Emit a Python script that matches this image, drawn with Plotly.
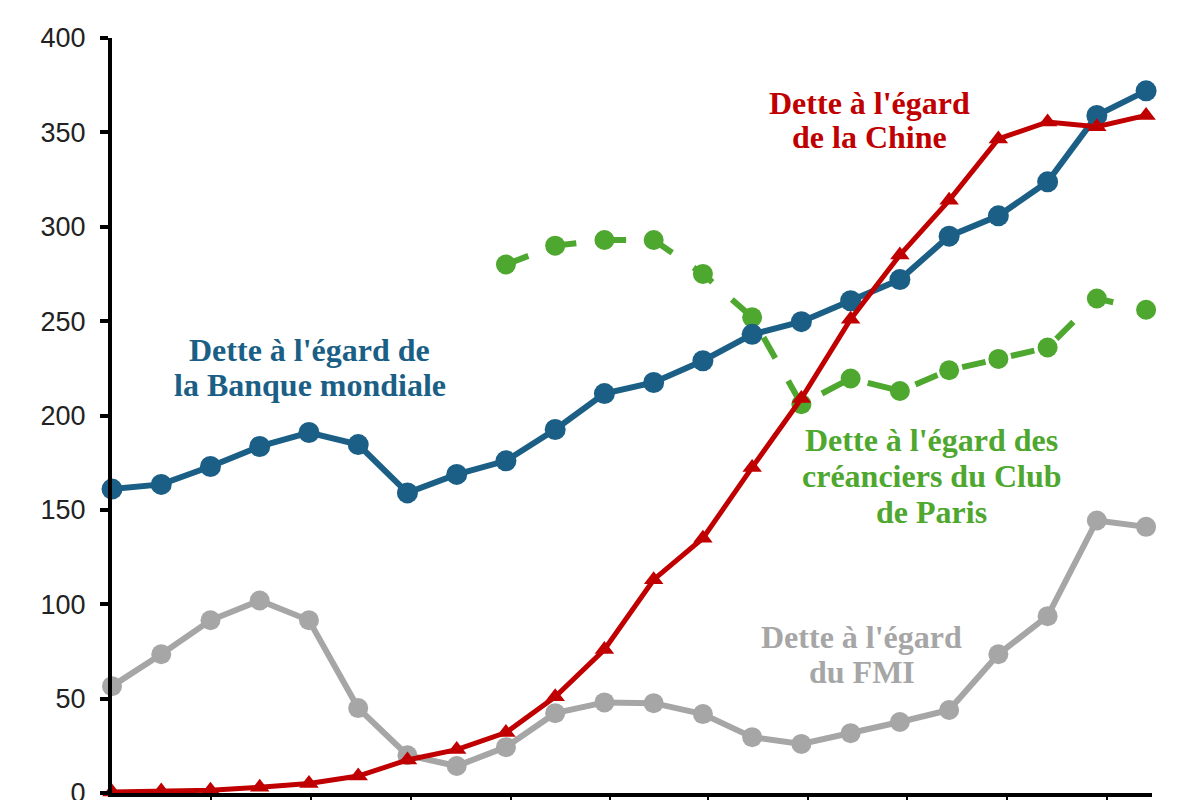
import plotly.graph_objects as go

idx = list(range(22))

banque_mondiale = [161, 163.5, 173, 183.6, 191, 184.6, 159, 168.8, 176, 192.6, 211.6, 217.5,
                   229, 243, 249.7, 260.8, 272, 295, 305.8, 323.8, 359, 372]
chine = [0.5, 1, 1.5, 3, 5, 9, 17.5, 23, 32, 51, 76, 113,
         135, 172.5, 209, 251, 285, 314, 346.5, 355.5, 353, 359]
fmi = [56.6, 73.5, 91.5, 102, 91.5, 45, 20, 14.3, 24.3, 42.3, 48, 47.6,
       41.8, 29.6, 26, 31.7, 37.6, 44, 73.5, 93.7, 144.4, 141]
club_paris = [None] * 8 + [280, 290, 293, 293, 275, 252, 206, 219.6, 213, 224, 230, 236, 262, 256]

y_ticks = [0, 50, 100, 150, 200, 250, 300, 350, 400]

BLUE = "#1b5f86"
RED = "#c00000"
GREEN = "#4ea72e"
GRAY = "#a6a6a6"

fig = go.Figure()
fig.add_trace(go.Scatter(x=idx, y=fmi, mode="lines+markers", cliponaxis=False,
                         line=dict(color=GRAY, width=6),
                         marker=dict(symbol="circle", size=20, color=GRAY)))
fig.add_trace(go.Scatter(x=idx, y=club_paris, mode="lines+markers", cliponaxis=False,
                         line=dict(color=GREEN, width=6, dash="24px,26px"),
                         marker=dict(symbol="circle", size=20, color=GREEN)))
fig.add_trace(go.Scatter(x=idx, y=banque_mondiale, mode="lines+markers", cliponaxis=False,
                         line=dict(color=BLUE, width=6),
                         marker=dict(symbol="circle", size=21, color=BLUE)))
fig.add_trace(go.Scatter(x=idx, y=chine, mode="lines+markers", cliponaxis=False,
                         line=dict(color=RED, width=5),
                         marker=dict(symbol="triangle-up", size=17, color=RED)))

font_ann = "Liberation Serif, Times New Roman, serif"
# each label: list of lines, x centre, y of first line, line step (data units), colour
labels = [
    (["Dette à l'égard de", "la Banque mondiale"], 4.02, 234.5, 18.3, BLUE),
    (["Dette à l'égard", "de la Chine"], 15.39, 365.6, 18.3, RED),
    (["Dette à l'égard des", "créanciers du Club", "de Paris"], 16.65, 187, 19.0, GREEN),
    (["Dette à l'égard", "du FMI"], 15.23, 82.6, 18.3, GRAY),
]
for lines, x, y0, step, c in labels:
    for i, t in enumerate(lines):
        fig.add_annotation(x=x, y=y0 - i * step, text="<b>" + t + "</b>", showarrow=False,
                           xref="x", yref="y", yanchor="middle", xanchor="center",
                           font=dict(family=font_ann, size=32, color=c))

fig.update_layout(
    width=1200, height=800,
    margin=dict(l=112, r=48, t=38, b=7),
    paper_bgcolor="white", plot_bgcolor="white",
    showlegend=False,
    xaxis=dict(range=[0, 21.12], showgrid=False, zeroline=False, automargin=False,
               showline=True, linecolor="black", linewidth=4,
               ticks="outside", ticklen=7, tickwidth=2, tickcolor="black",
               tickvals=[2.02, 4.05, 6.07, 8.1, 10.12, 12.1, 14.13, 16.15, 18.18, 20.2],
               showticklabels=False),
    yaxis=dict(range=[0, 400], showgrid=False, zeroline=False, automargin=False,
               showline=True, linecolor="black", linewidth=4,
               ticks="outside", ticklen=8, tickwidth=4, tickcolor="black",
               tickvals=y_ticks, ticklabelstandoff=9, ticklabeloverflow="allow",
               tickfont=dict(family="Liberation Sans, Arial", size=27, color="#222")),
)

fig.write_html("out.html")
